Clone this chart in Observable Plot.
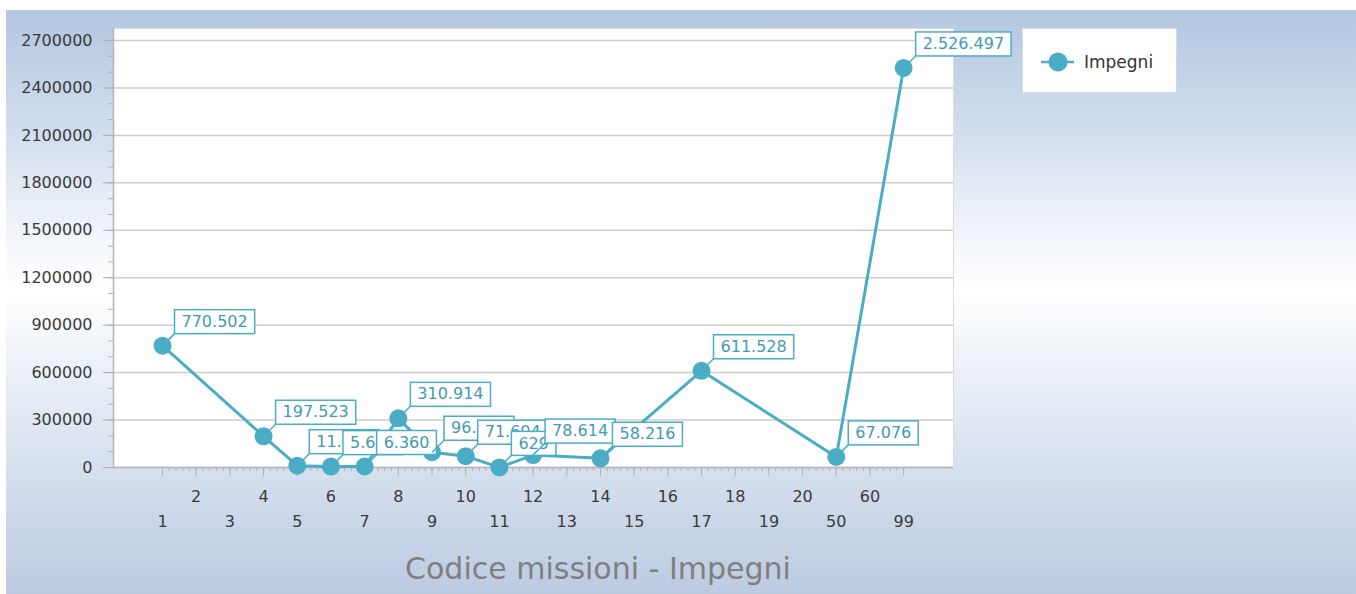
<!DOCTYPE html>
<html>
<head>
<meta charset="utf-8">
<script src="https://cdn.jsdelivr.net/npm/d3@7"></script>
<script src="https://cdn.jsdelivr.net/npm/@observablehq/plot@0.6"></script>
<style>
html, body { margin: 0; padding: 0; background: #ffffff; }
#panel {
  position: absolute; left: 6px; top: 10px; width: 1350px; height: 584px; overflow: hidden;
  background: linear-gradient(to bottom, #b3c7e0 0%, #d3dfee 22%, #f4f7fb 40%, #ffffff 48%, #f0f4f9 58%, #d6e0ee 78%, #bccbe2 100%);
  font-family: "DejaVu Sans", sans-serif;
}
#chart { position: absolute; left: 0; top: 0; }
#legend {
  position: absolute; left: 1016px; top: 18px; width: 155px; height: 65px;
  background: #ffffff; border: 1px solid #d4dbe4; box-sizing: border-box;
}
#title {
  position: absolute; left: 0; top: 544px; width: 1184px; text-align: center;
  font-size: 30px; line-height: 30px; color: #7f7f7f; font-family: "DejaVu Sans", sans-serif;
}
</style>
</head>
<body>
<div id="panel">
  <div id="chart"></div>
  <div id="legend"><svg width="155" height="65">
    <line x1="18" y1="33" x2="51" y2="33" stroke="#4bacc6" stroke-width="2.5"></line>
    <circle cx="35" cy="33" r="9.5" fill="#4bacc6"></circle>
    <text x="61" y="39" font-family="DejaVu Sans" font-size="17" fill="#333333">Impegni</text>
  </svg></div>
  <div id="title">Codice missioni - Impegni</div>
</div>
<script>
// Categories on the x axis (Codice missioni)
const codes = ["1","2","3","4","5","6","7","8","9","10","11","12","13","14","15","16","17","18","19","20","50","60","99"];
// Series "Impegni": codes that have a value, and the values
const impegniCodes = ["1","4","5","6","7","8","9","10","11","12","14","17","50","99"];
const impegniValues = [770502, 197523, 11500, 5600, 6360, 310914, 96500, 71604, 629, 78614, 58216, 611528, 67076, 2526497];
// Y tick labels
const yTicks = [0, 300000, 600000, 900000, 1200000, 1500000, 1800000, 2100000, 2400000, 2700000];

const color = "#4bacc6";
const labelColor = "#3f9ab5";
const data = impegniCodes.map((c, k) => ({i: codes.indexOf(c), v: impegniValues[k]}));
const fmt = v => d3.format(",")(v).replace(/,/g, ".");

const idx = codes.map((c, i) => i);
const oddIdx = idx.filter(i => i % 2 === 1);
const evenIdx = idx.filter(i => i % 2 === 0);
const minorX = d3.range(0, (codes.length - 1) * 5 + 1).map(k => k / 5);
const minorY = d3.range(0, 28).map(k => k * 100000);
const xDomain = [-1.455, 23.48];

const plot = Plot.plot({
  width: 1350, height: 584,
  marginLeft: 107, marginRight: 403, marginTop: 18, marginBottom: 127,
  style: {fontFamily: "DejaVu Sans", fontSize: "16px", color: "#3a3a3a", background: "transparent", overflow: "visible"},
  x: {type: "linear", domain: xDomain, label: null},
  y: {domain: [0, 2776000], label: null},
  marks: [
    Plot.frame({fill: "white", stroke: "#dcdcdc"}),
    Plot.ruleY(yTicks, {stroke: "#cdcdcd", strokeWidth: 1.5}),
    Plot.axisY(minorY, {tickSize: 5, tickFormat: () => "", stroke: "#b0b0b0", label: null}),
    Plot.axisY(yTicks, {tickSize: 10, tickPadding: 11, tickFormat: d => String(d), stroke: "#b0b0b0", fill: "#3a3a3a", fontSize: 16, label: null}),
    Plot.axisX(minorX, {tickSize: 4, tickFormat: () => "", stroke: "#b0b0b0", label: null}),
    Plot.axisX(oddIdx, {tickSize: 9, tickPadding: 14, tickFormat: i => codes[i], stroke: "#b0b0b0", fill: "#3a3a3a", fontSize: 16, label: null}),
    Plot.axisX(evenIdx, {tickSize: 9, tickPadding: 39, tickFormat: i => codes[i], stroke: "#b0b0b0", fill: "#3a3a3a", fontSize: 16, label: null}),
    Plot.ruleX([xDomain[0]], {stroke: "#b4b4b4", strokeWidth: 1.5}),
    Plot.ruleY([0], {stroke: "#b4b4b4", strokeWidth: 1.5}),
    Plot.line(data, {x: "i", y: "v", stroke: color, strokeWidth: 3}),
    Plot.dot(data, {x: "i", y: "v", r: 9, fill: color}),
    Plot.text(data, {x: "i", y: "v", text: d => fmt(d.v), dx: 19, dy: -24, textAnchor: "start", fill: labelColor, fontSize: 16})
  ]
});
document.getElementById("chart").append(plot);

// Boxes and leader lines behind each data label (interleaved so later labels cover earlier ones)
const ns = "http://www.w3.org/2000/svg";
const xs = plot.scale("x"), ys = plot.scale("y");
const g = plot.querySelector('g[aria-label="text"]');
if (g) {
  const texts = g.querySelectorAll("text");
  texts.forEach((t, k) => {
    const d = data[k];
    const px = xs.apply(d.i), py = ys.apply(d.v);
    const bb = t.getBBox();
    const line = document.createElementNS(ns, "line");
    line.setAttribute("x1", px - 19); line.setAttribute("y1", py + 24);
    line.setAttribute("x2", px - 7); line.setAttribute("y2", py + 12);
    line.setAttribute("stroke", color); line.setAttribute("stroke-width", 1.5);
    const rect = document.createElementNS(ns, "rect");
    rect.setAttribute("x", px - 7); rect.setAttribute("y", py - 12);
    rect.setAttribute("width", bb.width + 14); rect.setAttribute("height", 24);
    rect.setAttribute("fill", "#ffffff"); rect.setAttribute("stroke", color); rect.setAttribute("stroke-width", 1.5);
    g.insertBefore(line, t);
    g.insertBefore(rect, t);
  });
}
</script>
</body>
</html>
